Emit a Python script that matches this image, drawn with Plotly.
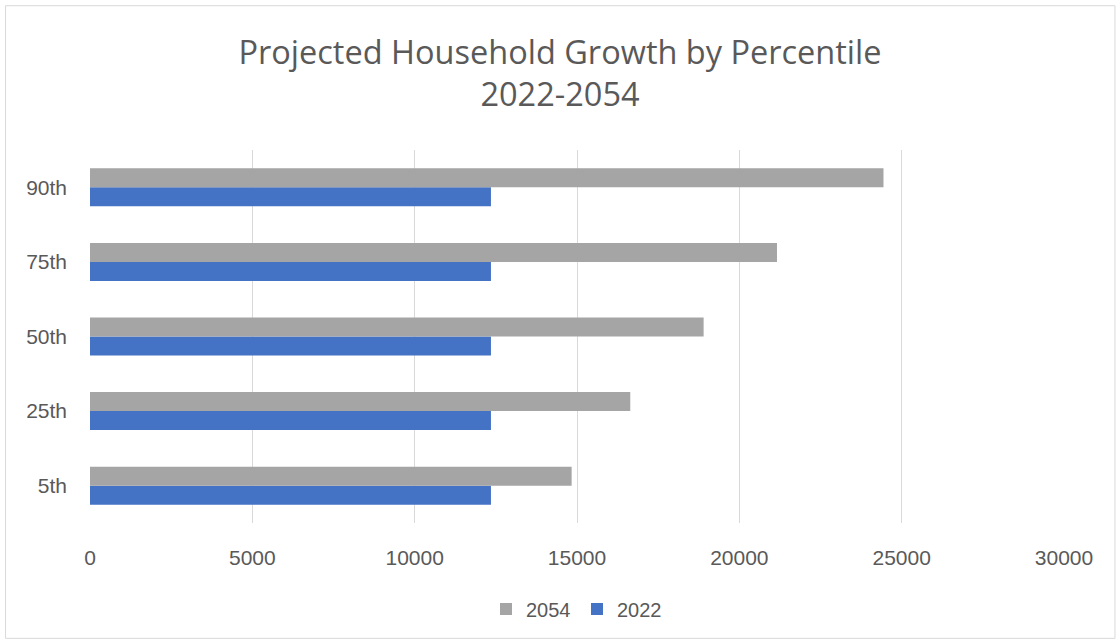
import plotly.graph_objects as go

categories = ["5th", "25th", "50th", "75th", "90th"]
values_2022 = [12350, 12350, 12350, 12350, 12350]
values_2054 = [14835, 16640, 18900, 21160, 24440]
x_ticks = [0, 5000, 10000, 15000, 20000, 25000, 30000]

W, H = 1120, 644
ml, mr, mt, mb = 89.5, 56, 149.6, 120.6
pw, ph = W - ml - mr, H - mt - mb

def px_x(p):
    return (p - ml) / pw

def px_y(p):
    return (H - mb - p) / ph

txt = "#595959"
fig = go.Figure()
fig.add_trace(go.Bar(y=categories, x=values_2022, name="2022", orientation="h",
                     marker=dict(color="#4472C4", line=dict(width=0))))
fig.add_trace(go.Bar(y=categories, x=values_2054, name="2054", orientation="h",
                     marker=dict(color="#A5A5A5", line=dict(width=0))))

fig.update_layout(
    width=W, height=H,
    margin=dict(l=ml, r=mr, t=mt, b=mb, autoexpand=False),
    paper_bgcolor="white", plot_bgcolor="white",
    barmode="group", bargap=0.49, bargroupgap=0,
    font=dict(family="Liberation Sans, Arial, sans-serif", color=txt),
    title=dict(text="Projected Household Growth by Percentile<br>2022-2054",
               x=0.5, xanchor="center", y=1 - 64 / H, yanchor="top",
               font=dict(size=32.5, color=txt, family="Open Sans, sans-serif")),
    xaxis=dict(range=[0, 30000], tickvals=x_ticks, ticktext=[str(v) for v in x_ticks],
               showgrid=True, gridcolor="#d9d9d9", gridwidth=1, zeroline=False,
               showline=False, ticks="", tickfont=dict(size=21, color=txt), ticklabelstandoff=20),
    yaxis=dict(showgrid=False, zeroline=False, showline=False, ticks="",
               tickfont=dict(size=21, color=txt), ticklabelstandoff=22),
    legend=dict(orientation="h", x=0.5, xanchor="center", y=px_y(590), yanchor="top",
                traceorder="reversed", itemwidth=30, entrywidth=46,
                font=dict(size=20, color=txt)),
    showlegend=True,
)
fig.add_shape(type="rect", xref="paper", yref="paper",
              x0=px_x(5), x1=px_x(1115), y0=px_y(639), y1=px_y(5),
              line=dict(color="#d9d9d9", width=1), fillcolor="rgba(0,0,0,0)", layer="below")

fig.write_html("out.html", config={"displayModeBar": False},
               post_script="document.body.style.margin='0';")
